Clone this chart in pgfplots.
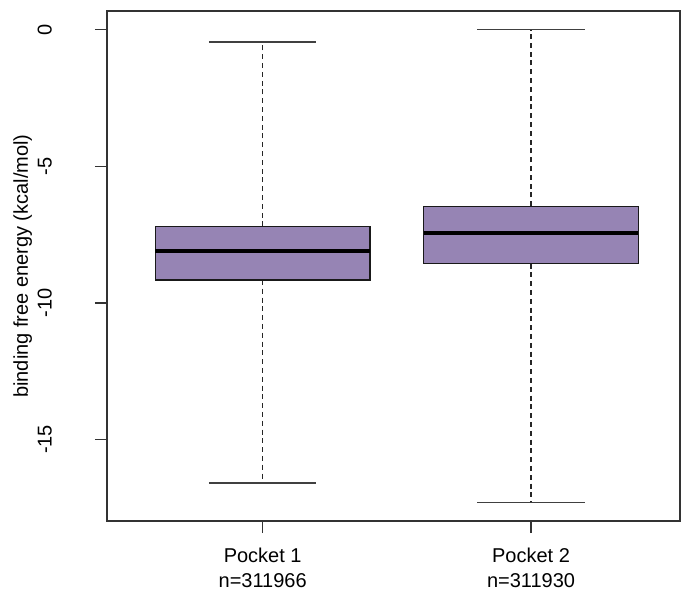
\documentclass[border=0pt]{standalone}
\usepackage{pgfplots}
\pgfplotsset{compat=1.18}
\usepackage{fontspec}
\setmainfont{Liberation Sans}
\definecolor{boxpurple}{RGB}{150,132,180}
\begin{document}
\begin{tikzpicture}
\begin{axis}[
  scale only axis, width=286.5pt, height=255pt,
  xmin=0.42, xmax=2.555, ymin=-17.99, ymax=0.69,
  axis line style={black!80, line width=0.65pt},
  tick style={black!80, line width=0.65pt},
  tick align=outside, major tick length=6pt,
  xtick pos=bottom, ytick pos=left,
  xtick={1,2},
  xticklabels={{Pocket 1\\n=311966},{Pocket 2\\n=311930}},
  xticklabel style={align=center, font=\fontsize{10}{12.3}\selectfont, yshift=-4pt},
  ytick={-15,-10,-5,0},
  yticklabels={-15,-10,-5,0},
  yticklabel style={xshift=-18pt, rotate=90, anchor=south, font=\fontsize{10}{12}\selectfont},
  ylabel={binding free energy (kcal/mol)},
  ylabel style={at={(rel axis cs:0,0.5)}, anchor=south, yshift=34pt, font=\fontsize{10}{12}\selectfont},
  boxline/.style={draw=black!90, line width=0.65pt},
  whisk/.style={draw=black!85, line width=0.6pt, dash pattern=on 2.5pt off 1.9pt},
  capline/.style={draw=black!75, line width=0.65pt},
  med/.style={draw=black, line width=1.8pt},
]
% Pocket 1
\addplot[whisk] coordinates {(1,-7.2) (1,-0.45)};
\addplot[whisk] coordinates {(1,-9.16) (1,-16.6)};
\addplot[capline] coordinates {(0.8,-0.45) (1.2,-0.45)};
\addplot[capline] coordinates {(0.8,-16.6) (1.2,-16.6)};
\addplot[boxline, fill=boxpurple, line join=miter] coordinates {(0.6,-9.16) (1.4,-9.16) (1.4,-7.2) (0.6,-7.2) (0.6,-9.16)};
\addplot[med] coordinates {(0.6,-8.1) (1.4,-8.1)};
% Pocket 2
\addplot[whisk] coordinates {(2,-6.46) (2,0.0)};
\addplot[whisk] coordinates {(2,-8.56) (2,-17.3)};
\addplot[capline] coordinates {(1.8,0.0) (2.2,0.0)};
\addplot[capline] coordinates {(1.8,-17.3) (2.2,-17.3)};
\addplot[boxline, fill=boxpurple, line join=miter] coordinates {(1.6,-8.56) (2.4,-8.56) (2.4,-6.46) (1.6,-6.46) (1.6,-8.56)};
\addplot[med] coordinates {(1.6,-7.45) (2.4,-7.45)};
\coordinate (bl) at (rel axis cs:0,0);
\coordinate (tr) at (rel axis cs:1,1);
\end{axis}
\pgfresetboundingbox
\path[use as bounding box] ([xshift=-53.5pt,yshift=-36pt]bl) rectangle ([xshift=0.5pt,yshift=5.5pt]tr);
\end{tikzpicture}
\end{document}
